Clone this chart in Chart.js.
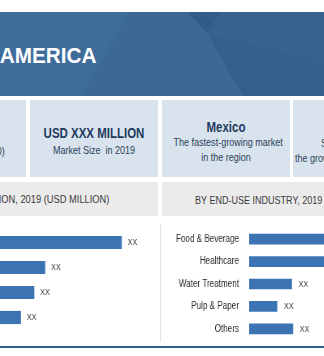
<!DOCTYPE html>
<html>
<head>
<meta charset="utf-8">
<script src="https://cdn.jsdelivr.net/npm/chart.js@4.4.1/dist/chart.umd.min.js"></script>
<style>
  html, body { margin:0; padding:0; }
  body { width:324px; height:356px; overflow:hidden; position:relative; background:#fff;
         font-family:"Liberation Sans",Arial,sans-serif; }
  .abs { position:absolute; white-space:nowrap; line-height:1; }
  #banner { left:0; top:12px; width:324px; height:84px; background:#3a6692; overflow:hidden; }
  .poly { position:absolute; left:0; top:0; width:324px; height:84px; }
  .box { background:#d8e3ee; top:100px; height:77px; }
  .hdr { background:#ebebeb; top:182px; height:34px; }
  .bt { color:#1e3a5c; font-weight:bold; font-size:14px; }
  .nt { color:#2a3f58; font-size:11px; }
  .ht { color:#3a3a3a; font-size:11px; top:194.6px; }
  .c { width:128px; text-align:center; transform:scaleX(0.82); transform-origin:50% 50%; }
  .l { transform:scaleX(0.82); transform-origin:0 50%; }
  .r { transform:scaleX(0.82); transform-origin:100% 50%; }
</style>
</head>
<body>
<div id="banner" class="abs">
  <div class="poly" style="background:#3f6d9b;clip-path:polygon(0 0,40% 0,25% 100%,0 100%);"></div>
  <div class="poly" style="background:#3b6896;clip-path:polygon(40% 0,60% 0,75% 100%,25% 100%);"></div>
  <div class="poly" style="background:#305c88;clip-path:polygon(58% 0,68% 0,64% 25%);"></div>
  <div class="poly" style="background:#37628e;clip-path:polygon(68% 0,100% 0,100% 60%,64% 25%);"></div>
  <div class="poly" style="background:#35608c;clip-path:polygon(75% 100%,64% 25%,100% 60%,100% 100%);"></div>
</div>
<div class="abs" style="right:228px;top:45px;color:#fff;font-weight:bold;font-size:22.5px;transform:scaleX(0.92);transform-origin:100% 50%;">NORTH AMERICA</div>

<div class="abs box" style="left:-102px;width:128px;"></div>
<div class="abs box" style="left:30px;width:128px;"></div>
<div class="abs box" style="left:162px;width:128px;"></div>
<div class="abs box" style="left:293px;width:128px;"></div>

<div class="abs nt r" style="right:319px;top:145.5px;">CAGR (2020-2030)</div>
<div class="abs bt c" style="left:30px;top:126.4px;">USD XXX MILLION</div>
<div class="abs nt c" style="left:30px;top:145.1px;">Market Size&nbsp; in 2019</div>
<div class="abs bt c" style="left:162px;top:119.8px;">Mexico</div>
<div class="abs nt c" style="left:162px;top:136.6px;">The fastest-growing market</div>
<div class="abs nt c" style="left:162px;top:152.1px;">in the region</div>
<div class="abs nt l" style="left:321px;top:138px;">Strong demand in</div>
<div class="abs nt l" style="left:295px;top:153px;">the growing healthcare sector</div>

<div class="abs hdr" style="left:-60px;width:218px;"></div>
<div class="abs hdr" style="left:162px;width:200px;"></div>
<div class="abs ht r" style="right:215px;font-size:11.35px;top:194.4px;">BY APPLICATION, 2019 (USD MILLION)</div>
<div class="abs ht l" style="left:195px;">BY END-USE INDUSTRY, 2019 (USD MILLION)</div>

<div class="abs" style="left:160px;top:224px;width:1px;height:118px;background:#e2e2e2;"></div>
<div class="abs" style="left:0;top:346px;width:324px;height:2px;background:#2f5f8e;"></div>

<canvas id="c1" class="abs" width="195" height="100" style="left:0;top:230px;transform:scaleX(0.81);transform-origin:0 0;"></canvas>
<canvas id="c2" class="abs" width="260" height="112" style="left:160px;top:228px;transform:scaleX(0.81);transform-origin:0 0;"></canvas>

<script>
const leftCategories = ["Application A", "Application B", "Application C", "Application D"];
const leftValues = [100, 37, 28, 17];
const leftLabels = ["XX", "XX", "XX", "XX"];

const rightCategories = ["Food & Beverage", "Healthcare", "Water Treatment", "Pulp & Paper", "Others"];
const rightValues = [78, 72, 35, 23, 36];
const rightLabels = ["XX", "XX", "XX", "XX", "XX"];

const FONT = '"Liberation Sans",Arial,sans-serif';
Chart.defaults.font.family = FONT;

const valueLabels = {
  id: 'valueLabels',
  afterDatasetsDraw(chart, args, opts) {
    const ctx = chart.ctx;
    const meta = chart.getDatasetMeta(0);
    ctx.save();
    ctx.fillStyle = '#3a3a3a';
    ctx.font = '9px ' + FONT;
    ctx.textAlign = 'left';
    ctx.textBaseline = 'middle';
    meta.data.forEach((bar, i) => {
      ctx.fillText(opts.labels[i], bar.x + opts.gap, bar.y + 0.5);
    });
    ctx.restore();
  }
};

new Chart(document.getElementById('c1'), {
  type: 'bar',
  data: { labels: leftCategories,
    datasets: [{ data: leftValues, backgroundColor: '#3b73b3', barThickness: 12.5 }] },
  options: {
    indexAxis: 'y', responsive: false, animation: false,
    layout: { padding: 0 },
    plugins: { legend: { display: false }, tooltip: { enabled: false },
               valueLabels: { labels: leftLabels, gap: 7.4 } },
    scales: {
      x: { display: false, min: 0, max: 130 },
      y: { display: false }
    }
  },
  plugins: [valueLabels]
});

new Chart(document.getElementById('c2'), {
  type: 'bar',
  data: { labels: rightCategories,
    datasets: [{ data: rightValues, backgroundColor: '#3b73b3', barThickness: 10 }] },
  options: {
    indexAxis: 'y', responsive: false, animation: false,
    layout: { padding: 0 },
    plugins: { legend: { display: false }, tooltip: { enabled: false },
               valueLabels: { labels: rightLabels, gap: 8.6 } },
    scales: {
      x: { display: false, min: 0, max: 100 },
      y: {
        grid: { display: false, drawTicks: false },
        border: { display: false },
        ticks: { color: '#2b2b2b', padding: 12.5, font: { size: 10 } },
        afterFit(scale) { scale.width = 110; scale.paddingTop = 0; scale.paddingBottom = 0; }
      }
    }
  },
  plugins: [valueLabels]
});
</script>
</body>
</html>
